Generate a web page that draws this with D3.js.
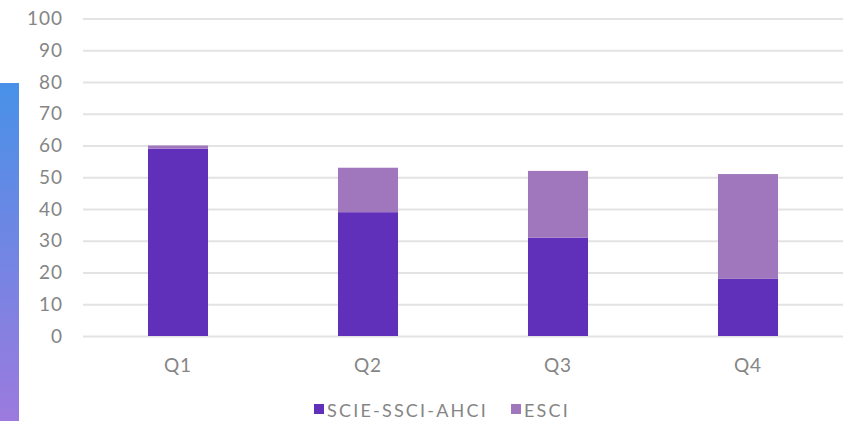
<!DOCTYPE html>
<html><head><meta charset="utf-8">
<script src="https://cdn.jsdelivr.net/npm/d3@7"></script>
<style>html,body{margin:0;padding:0;background:#fff;}svg{display:block;}</style>
</head><body>
<svg id="c" width="856" height="421"></svg>
<script>
const categories = ["Q1","Q2","Q3","Q4"];
const seriesNames = ["SCIE-SSCI-AHCI","ESCI"];
const scieValues = [59,39,31,18];
const esciValues = [1,14,21,33];
const yTicks = [0,10,20,30,40,50,60,70,80,90,100];
const colors = ["#6130bb","#a076bd"];

const svg = d3.select("#c");
const W = 856, H = 421;
const m = {left:83, right:13};
const font = "Lato, 'Noto Sans', sans-serif";
const textColor = "#858585";

// left gradient strip
const defs = svg.append("defs");
const lg = defs.append("linearGradient").attr("id","g").attr("x1",0).attr("y1",0).attr("x2",0).attr("y2",1);
lg.append("stop").attr("offset","0%").attr("stop-color","#4891e8");
lg.append("stop").attr("offset","100%").attr("stop-color","#9c7ade");
svg.append("rect").attr("x",0).attr("y",83).attr("width",19).attr("height",H-83).attr("fill","url(#g)");

const x = d3.scaleBand().domain(categories).range([m.left, W-m.right]).paddingInner(0.684).paddingOuter(0.342);
const y = d3.scaleLinear().domain([0,100]).range([336, 18.5]);

// grid + y labels
const yAxis = d3.axisLeft(y).tickValues(yTicks).tickSize(-(W-m.right-m.left)).tickPadding(20);
const ga = svg.append("g").attr("transform",`translate(${m.left},0)`).call(yAxis);
ga.select(".domain").remove();
ga.selectAll(".tick line").attr("stroke","#e3e3e3").attr("stroke-width",1.8);
ga.selectAll(".tick text").attr("fill",textColor).style("font-family",font).style("font-size","19px").style("letter-spacing","1px");

// stacked bars
const rows = categories.map((c,i)=>({cat:c, s0:scieValues[i], s1:esciValues[i]}));
const stack = d3.stack().keys(["s0","s1"])(rows);
svg.append("g").selectAll("g").data(stack).join("g").attr("fill",(d,i)=>colors[i])
  .selectAll("rect").data(d=>d).join("rect")
  .attr("x",d=>x(d.data.cat)).attr("width",x.bandwidth())
  .attr("y",d=>y(d[1])).attr("height",d=>y(d[0])-y(d[1]));

// x axis
const xa = svg.append("g").attr("transform",`translate(0,336)`).call(d3.axisBottom(x).tickSize(0).tickPadding(22.5));
xa.select(".domain").remove();
xa.selectAll(".tick text").attr("fill",textColor).style("font-family",font).style("font-size","19px").style("letter-spacing","1px");

// legend
const leg = svg.append("g");
const items = [{n:seriesNames[0], c:colors[0], x:314},{n:seriesNames[1], c:colors[1], x:511}];
items.forEach(it=>{
  leg.append("rect").attr("x",it.x).attr("y",404).attr("width",10).attr("height",10).attr("fill",it.c);
  leg.append("text").attr("x",it.x+13).attr("y",416.5).text(it.n)
    .attr("fill",textColor).style("font-family",font).style("font-size","18px").style("letter-spacing","2.2px");
});
</script>
</body></html>
